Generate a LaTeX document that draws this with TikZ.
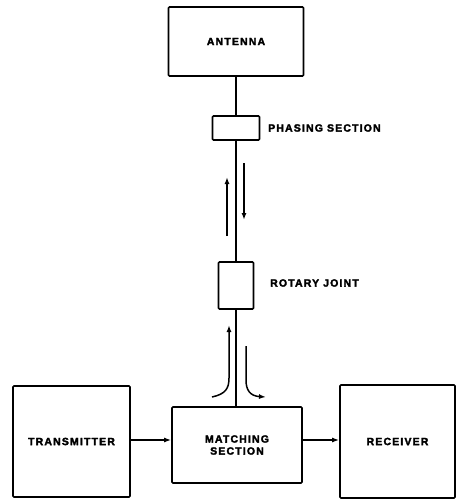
\documentclass[tikz,border=0pt]{standalone}
\usepackage{fontspec}
\setmainfont{Liberation Sans}[LetterSpace=11,BoldFeatures={FakeBold=2.5}]
\usetikzlibrary{arrows.meta}
\begin{document}
\begin{tikzpicture}[x=1pt,y=-1pt,
  blk/.style={draw,line width=1.7pt,rounded corners=1pt,inner sep=0pt,font=\fontsize{10.5}{12}\selectfont\bfseries,align=center},
  lbl/.style={font=\fontsize{10.5}{12}\selectfont\bfseries,anchor=west,inner sep=0pt},
  wire/.style={line width=1.5pt},
  flow/.style={line width=1.5pt,-{Latex[length=7pt,width=5pt]}}]
\useasboundingbox (0,0) rectangle (463,499);
\node[blk,minimum width=135pt,minimum height=69pt] (ant) at (236,41.5) {ANTENNA};
\node[blk,minimum width=47pt,minimum height=24pt] (pha) at (236,128) {};
\node[blk,minimum width=35pt,minimum height=47pt] (rot) at (236,285.5) {};
\node[blk,minimum width=130pt,minimum height=76pt] (mat) at (237,445) {MATCHING\\SECTION};
\node[blk,minimum width=117pt,minimum height=111pt] (tx) at (71.5,441.5) {TRANSMITTER};
\node[blk,minimum width=115pt,minimum height=113pt] (rx) at (397.5,441.5) {RECEIVER};
\node[lbl] (phal) at (268,128) {PHASING SECTION};
\node[lbl] (rotl) at (270,283) {ROTARY JOINT};
\draw[wire] (ant.south) -- (pha.north);
\draw[wire] (pha.south) -- (rot.north);
\draw[wire] (rot.south) -- (rot.south |- mat.north);
\draw[flow] (tx.east |- 0,440) -- (mat.west |- 0,440);
\draw[flow] (mat.east |- 0,440) -- (rx.west |- 0,440);
\coordinate (u1) at (227,236);
\coordinate (u2) at (227,177);
\coordinate (d1) at (244,163);
\coordinate (d2) at (244,220);
\draw[flow] (u1) -- (u2);
\draw[flow] (d1) -- (d2);
\coordinate (l0) at (212,397);
\coordinate (l1) at (229,325);
\coordinate (r0) at (246,346);
\coordinate (r1) at (266,397);
\draw[flow] (l0) .. controls (226,394) and (229,388) .. (229,378) -- (l1);
\draw[flow] (r0) -- (246,380) .. controls (246,390) and (250,396) .. (r1);
\end{tikzpicture}
\end{document}
